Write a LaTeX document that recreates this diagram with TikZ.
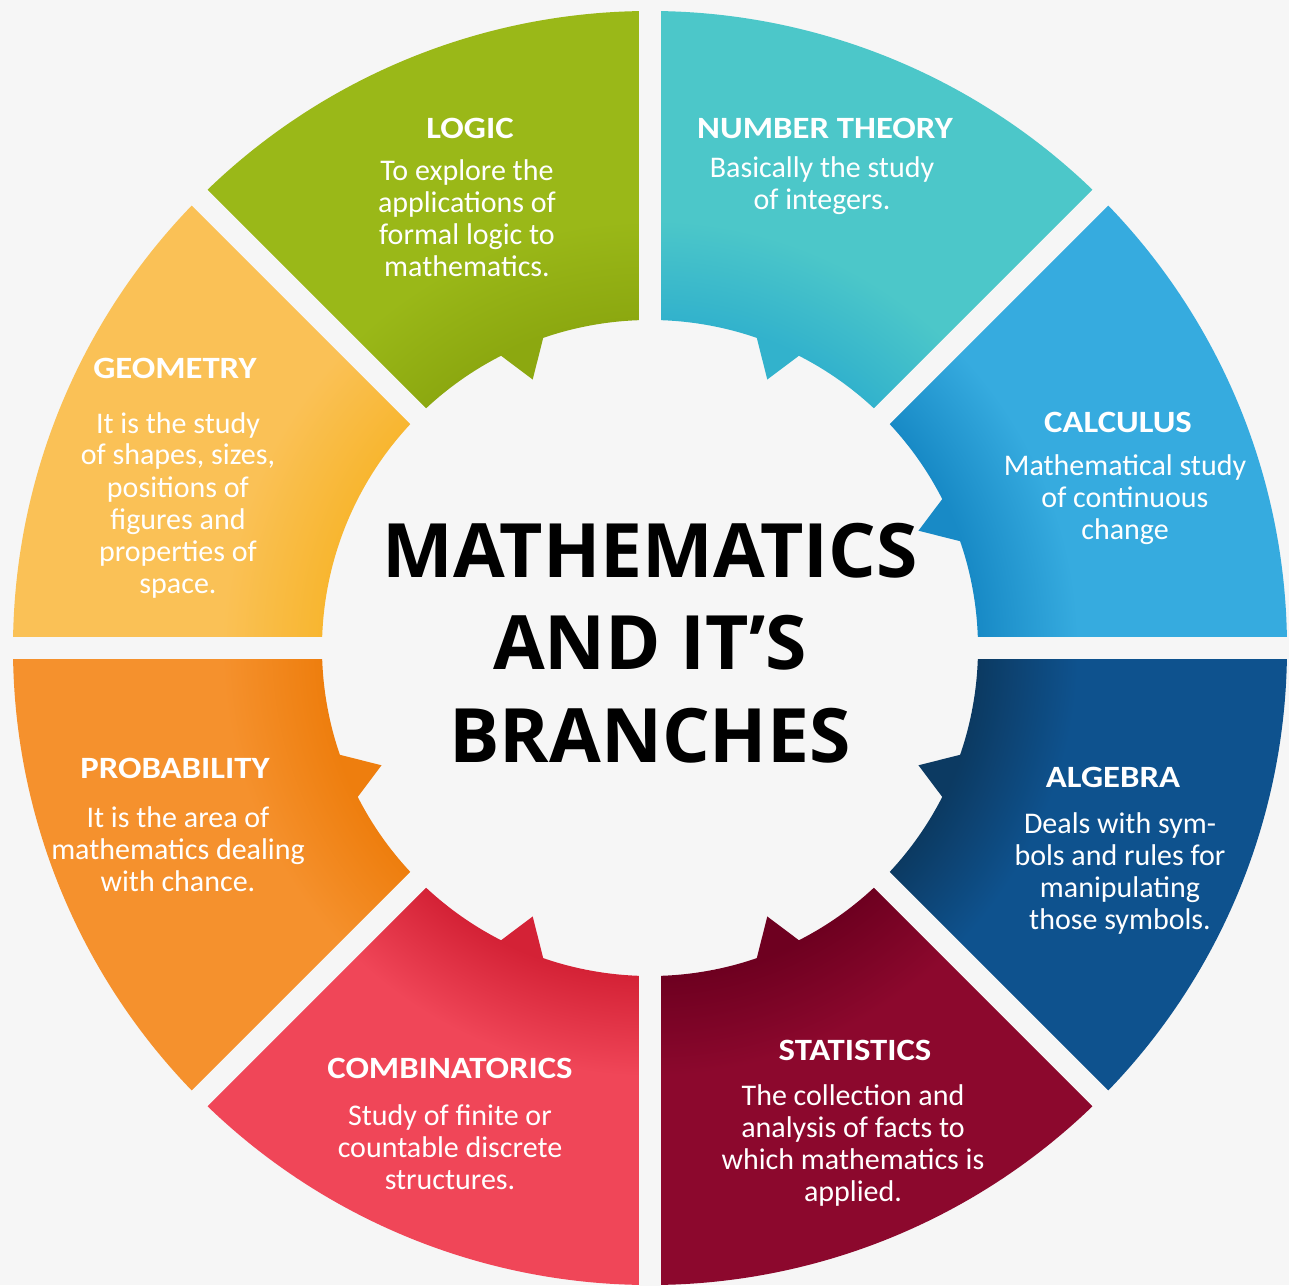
\documentclass[tikz,border=0pt]{standalone}
\usepackage{fontspec}
\setmainfont{Carlito}
\newfontfamily\headfont{Open Sans}
\newfontfamily\segfont[FakeStretch=1.12]{Carlito}
\definecolor{bgc}{RGB}{246,246,246}
\colorlet{shA}{black}
\colorlet{shB}{white}
\pgfdeclareradialshading[shA,shB]{ringsh}{\pgfpoint{0bp}{0bp}}{color(0bp)=(shA); color(12.9bp)=(shA); color(16.8bp)=(shB); color(25bp)=(shB); color(50bp)=(shB)}
\tikzset{
  segtitle/.style={text=white, font=\segfont\bfseries\fontsize{31}{34}\selectfont, inner sep=0pt},
  segdesc/.style={text=white, font=\fontsize{30}{32}\selectfont, align=center, inner sep=0pt},
  gapline/.style={draw=bgc, line width=22pt},
  headtext/.style={text=black, font=\headfont\bfseries\fontsize{75}{92.5}\selectfont, align=center, inner sep=0pt},
}
% #1 inner colour, #2 outer colour, #3 axis angle, #4 direction sign
\newcommand{\mysegment}[4]{%
  \pgfmathsetmacro\dA{#3+45*#4}%
  \pgfmathsetmacro\tA{#3+19*#4}%
  \pgfmathsetmacro\tT{#3+23.6*#4}%
  \pgfmathsetmacro\tB{#3+27*#4}%
  \begin{scope}
    \clip (#3:637) arc[start angle=#3, end angle=\dA, radius=637]
      -- (\dA:328) arc[start angle=\dA, end angle=\tB, radius=328]
      -- (\tT:293) -- (\tA:328) arc[start angle=\tA, end angle=#3, radius=328] -- cycle;
    \colorlet{shA}{#1}\colorlet{shB}{#2}%
    \shade[shading=ringsh] (0,0) circle[radius=637];
  \end{scope}
}
\begin{document}
\begin{tikzpicture}[x=1pt,y=1pt]
\fill[bgc] (-650,-637) rectangle (639,648);
\useasboundingbox (-650,-637) rectangle (639,648);
% segments
\mysegment{rgb,255:red,140;green,168;blue,16}{rgb,255:red,154;green,184;blue,24}{90}{1}
\mysegment{rgb,255:red,50;green,178;blue,204}{rgb,255:red,76;green,199;blue,201}{90}{-1}
\mysegment{rgb,255:red,24;green,138;blue,198}{rgb,255:red,54;green,171;blue,223}{0}{1}
\mysegment{rgb,255:red,12;green,58;blue,98}{rgb,255:red,14;green,82;blue,142}{0}{-1}
\mysegment{rgb,255:red,110;green,0;blue,32}{rgb,255:red,140;green,8;blue,45}{-90}{1}
\mysegment{rgb,255:red,212;green,34;blue,54}{rgb,255:red,240;green,70;blue,88}{-90}{-1}
\mysegment{rgb,255:red,238;green,126;blue,14}{rgb,255:red,245;green,145;blue,45}{180}{1}
\begin{scope}
  \clip (180:637) arc[start angle=180, end angle=135, radius=637]
    -- (135:328) arc[start angle=135, end angle=180, radius=328] -- cycle;
  \colorlet{shA}{rgb,255:red,248;green,182;blue,48}\colorlet{shB}{rgb,255:red,250;green,193;blue,86}%
  \shade[shading=ringsh] (0,0) circle[radius=637];
\end{scope}
% gaps
\foreach \g in {0,45,...,315} { \draw[gapline] (0,0) -- (\g:660); }
% centre title
\node[headtext] (head) at (0,5) {MATHEMATICS\\AND IT’S\\BRANCHES};
% labels
\node[segtitle] (logicT) at (-180,520) {LOGIC};
\node[segdesc] (logicD) at (-183,430) {To explore the\\applications of\\formal logic to\\mathematics.};
\node[segtitle] (numT) at (175,520) {NUMBER THEORY};
\node[segdesc] (numD) at (172,462) {Basically the study\\of integers.};
\node[segtitle] (calcT) at (468,226) {CALCULUS};
\node[segdesc] (calcD) at (475,148) {Mathematical study\\of continuous\\change};
\node[segtitle] (algT) at (463,-129) {ALGEBRA};
\node[segdesc] (algD) at (470,-225) {Deals with sym-\\bols and rules for\\manipulating\\those symbols.};
\node[segtitle] (statT) at (205,-402) {STATISTICS};
\node[segdesc] (statD) at (203,-497) {The collection and\\analysis of facts to\\which mathematics is\\applied.};
\node[segtitle] (combT) at (-200,-420) {COMBINATORICS};
\node[segdesc] (combD) at (-200,-499) {Study of finite or\\countable discrete\\structures.};
\node[segtitle] (probT) at (-475,-120) {PROBABILITY};
\node[segdesc] (probD) at (-472,-201) {It is the area of\\mathematics dealing\\with chance.};
\node[segtitle] (geoT) at (-475,280) {GEOMETRY};
\node[segdesc] (geoD) at (-472,143) {It is the study\\of shapes, sizes,\\positions of\\figures and\\properties of\\space.};
\end{tikzpicture}
\end{document}
